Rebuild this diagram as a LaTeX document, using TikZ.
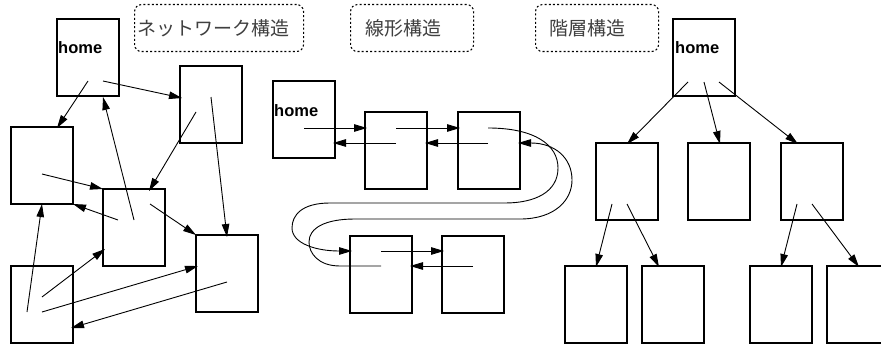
\documentclass[tikz,border=0pt]{standalone}
\usepackage{fontspec}
\newfontfamily\cjk{Noto Sans CJK JP}
\newfontfamily\hv{Liberation Sans}
\usetikzlibrary{arrows.meta}
\begin{document}
\begin{tikzpicture}[x=1pt,y=-1pt,
  box/.style={draw, line width=1.1pt, minimum width=62pt, minimum height=77pt, anchor=north west, inner sep=0pt, outer sep=0pt},
  boxline/.style={line width=1.1pt},
  arr/.style={-{Triangle[length=13pt,width=7.5pt]}, line width=0.9pt},
  lab/.style={draw, line width=1.1pt, dash pattern=on 2pt off 2.2pt, rounded corners=7pt, minimum height=47pt, anchor=north west, inner xsep=0pt, inner ysep=0pt, align=left, font=\cjk\fontsize{19}{22}\selectfont, text=black!75},
  hometxt/.style={anchor=base west, inner sep=0pt, font=\hv\bfseries\fontsize{16.5}{18}\selectfont}
]
\useasboundingbox (0,0) rectangle (881,345);
\clip (0,0) rectangle (881,345);
\fill[white] (0,0) rectangle (881,345);
% labels
\node[lab, text width=169pt] (lbN) at (134,4) {\hspace*{3pt}ネットワーク構造};
\node[lab, text width=123pt] (lbL) at (350,4) {\hspace*{15pt}線形構造};
\node[lab, text width=123pt] (lbH) at (535,4) {\hspace*{14pt}階層構造};
% network
\node[box] (hN) at (57,19) {};
\node[box] (nB) at (180,66) {};
\node[box] (nC) at (11,127) {};
\node[box] (nD) at (103,189) {};
\node[box] (nE) at (196,235) {};
\node[box] (nF) at (11,266) {};
\node[hometxt] (tN) at (58,54) {home};
\draw[arr] ([shift={(31,62)}]hN.north west) -- ([shift={(46,1)}]nC.north west);
\draw[arr] ([shift={(46,62)}]hN.north west) -- ([shift={(2,32)}]nB.north west);
\draw[arr] ([shift={(31,31)}]nD.north west) -- ([shift={(46,78)}]hN.north west);
\draw[arr] ([shift={(16,46)}]nB.north west) -- ([shift={(46,2)}]nD.north west);
\draw[arr] ([shift={(31,31)}]nB.north west) -- ([shift={(31,2)}]nE.north west);
\draw[arr] ([shift={(31,47)}]nC.north west) -- (nD.north west);
\draw[arr] ([shift={(15,31)}]nD.north west) -- (nC.south east);
\draw[arr] ([shift={(47,15)}]nD.north west) -- (nE.north west);
\draw[arr] ([shift={(16,46)}]nF.north west) -- ([shift={(31,77)}]nC.north west);
\draw[arr] ([shift={(31,31)}]nF.north west) -- ([shift={(2,60)}]nD.north west);
\draw[arr] ([shift={(31,46)}]nF.north west) -- ([shift={(2,31)}]nE.north west);
\draw[arr] ([shift={(31,47)}]nE.north west) -- ([shift={(60,62)}]nF.north west);
% linear
\node[box] (lH) at (273,81) {};
\node[box] (l1) at (365,112) {};
\node[box] (l2) at (458,112) {};
\node[box] (l3) at (350,236) {};
\node[box] (l4) at (442,236) {};
\node[hometxt] (tL) at (274,116) {home};
\draw[arr] ([shift={(31,47)}]lH.north west) -- ([shift={(2,16)}]l1.north west);
\draw[arr] ([shift={(31,31)}]l1.north west) -- ([shift={(60,62)}]lH.north west);
\draw[arr] ([shift={(31,16)}]l1.north west) -- ([shift={(2,16)}]l2.north west);
\draw[arr] ([shift={(30,31)}]l2.north west) -- ([shift={(60,31)}]l1.north west);
\draw[arr] ([shift={(31,15)}]l3.north west) -- ([shift={(2,15)}]l4.north west);
\draw[arr] ([shift={(31,30)}]l4.north west) -- ([shift={(60,30)}]l3.north west);
\draw[arr] ([shift={(30,16)}]l2.north west) .. controls (535,128) and (558,145) .. (558,168)
  .. controls (558,192) and (535,203) .. (505,203) -- (330,203)
  .. controls (302,203) and (292,215) .. (292,228)
  .. controls (292,243) and (315,251) .. ([shift={(2,15)}]l3.north west);
\draw[arr] ([shift={(31,30)}]l3.north west) -- (340,266)
  .. controls (318,266) and (309,253) .. (309,242)
  .. controls (309,228) and (325,219) .. (355,219) -- (520,219)
  .. controls (555,219) and (572,200) .. (572,180)
  .. controls (572,158) and (555,143) .. ([shift={(60,31)}]l2.north west);
% hierarchy
\node[box] (hH) at (673,19) {};
\node[box] (h1) at (596,143) {};
\node[box] (h2) at (688,143) {};
\node[box] (h3) at (781,143) {};
\node[box] (h11) at (565,266) {};
\node[box] (h12) at (642,266) {};
\node[box] (h31) at (750,266) {};
\node[box, draw=none] (h32) at (827,266) {};
\draw[boxline] (h32.north east) -- (h32.north west) -- (h32.south west) -- (h32.south east);
\node[hometxt] (tH) at (675,54) {home};
\draw[arr] ([shift={(15,63)}]hH.north west) -- ([shift={(31,1)}]h1.north west);
\draw[arr] ([shift={(31,63)}]hH.north west) -- ([shift={(32,1)}]h2.north west);
\draw[arr] ([shift={(46,63)}]hH.north west) -- ([shift={(17,1)}]h3.north west);
\draw[arr] ([shift={(16,61)}]h1.north west) -- ([shift={(31,1)}]h11.north west);
\draw[arr] ([shift={(31,61)}]h1.north west) -- ([shift={(17,1)}]h12.north west);
\draw[arr] ([shift={(16,61)}]h3.north west) -- ([shift={(31,1)}]h31.north west);
\draw[arr] ([shift={(31,61)}]h3.north west) -- ([shift={(32,1)}]h32.north west);
\end{tikzpicture}
\end{document}
